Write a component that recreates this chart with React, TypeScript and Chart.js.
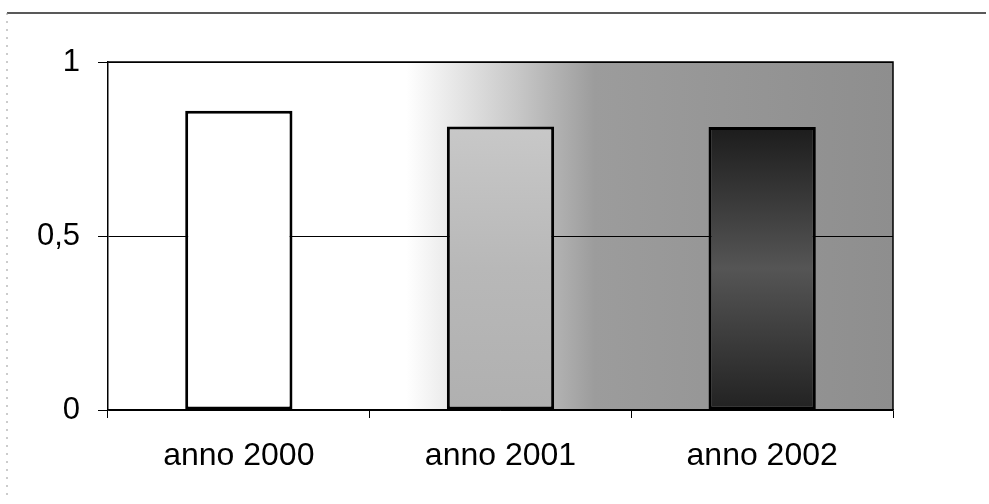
import React, { useEffect, useRef } from "react";
import { Chart, registerables } from "chart.js";

Chart.register(...registerables);

const categories = ["anno 2000", "anno 2001", "anno 2002"];
const values = [0.86, 0.815, 0.813];
const yTicks = [0, 0.5, 1];

const frame = {
  id: "frame",
  beforeDraw(chart: any) {
    const { ctx, chartArea: a } = chart;
    ctx.save();
    ctx.fillStyle = "#ffffff";
    ctx.fillRect(0, 0, chart.width, chart.height);
    const g = ctx.createLinearGradient(a.left, 0, a.right, 0);
    g.addColorStop(0, "#ffffff");
    g.addColorStop(0.38, "#ffffff");
    g.addColorStop(0.52, "#c8c8c8");
    g.addColorStop(0.62, "#9c9c9c");
    g.addColorStop(1, "#8e8e8e");
    ctx.fillStyle = g;
    ctx.fillRect(a.left, a.top, a.right - a.left, a.bottom - a.top);
    // outer frame
    ctx.strokeStyle = "#222";
    ctx.lineWidth = 1.5;
    ctx.beginPath();
    ctx.moveTo(7, 13);
    ctx.lineTo(986, 13);
    ctx.stroke();
    ctx.setLineDash([2, 6]);
    ctx.strokeStyle = "#999";
    ctx.lineWidth = 1;
    ctx.beginPath();
    ctx.moveTo(7, 13);
    ctx.lineTo(7, 500);
    ctx.stroke();
    ctx.restore();
  },
  afterDatasetsDraw(chart: any) {
    const { ctx, chartArea: a } = chart;
    ctx.save();
    ctx.strokeStyle = "#000";
    ctx.lineWidth = 1.5;
    ctx.beginPath();
    ctx.moveTo(a.left, a.top);
    ctx.lineTo(a.right, a.top);
    ctx.lineTo(a.right, a.bottom);
    ctx.stroke();
    ctx.restore();
  },
};

export default function App() {
  const ref = useRef<HTMLCanvasElement>(null);
  useEffect(() => {
    const canvas = ref.current!;
    const ctx = canvas.getContext("2d")!;
    const g2 = ctx.createLinearGradient(0, 127, 0, 410);
    g2.addColorStop(0, "#1c1c1c");
    g2.addColorStop(0.5, "#555555");
    g2.addColorStop(1, "#222222");
    const g1 = ctx.createLinearGradient(0, 126, 0, 410);
    g1.addColorStop(0, "#c8c8c8");
    g1.addColorStop(0.5, "#b8b8b8");
    g1.addColorStop(1, "#b0b0b0");
    const chart = new Chart(canvas, {
      type: "bar",
      data: {
        labels: categories,
        datasets: [
          {
            data: values,
            backgroundColor: ["#ffffff", g1, g2],
            borderColor: "#000",
            borderWidth: 3,
            borderSkipped: false,
            categoryPercentage: 1,
            barPercentage: 0.41,
          },
        ],
      },
      options: {
        animation: false,
        responsive: true,
        maintainAspectRatio: false,
        layout: { padding: { left: 0, right: 96, top: 62, bottom: 0 } },
        plugins: { legend: { display: false }, tooltip: { enabled: false } },
        scales: {
          x: {
            afterFit: (s: any) => {
              s.height = 94;
            },
            grid: {
              offset: true,
              drawOnChartArea: false,
              drawTicks: true,
              tickLength: 8,
              color: "#000",
            },
            border: { display: true, color: "#000", width: 1.5 },
            ticks: {
              color: "#000",
              padding: 19,
              font: { family: "Liberation Sans, Arial", size: 32 },
            },
          },
          y: {
            min: 0,
            max: 1,
            afterFit: (s: any) => {
              s.width = 108;
            },
            afterBuildTicks: (s: any) => {
              s.ticks = yTicks.map((v) => ({ value: v }));
            },
            grid: {
              color: "#000",
              lineWidth: 1,
              drawTicks: true,
              tickLength: 10,
            },
            border: { display: true, color: "#000", width: 1.5 },
            ticks: {
              color: "#000",
              padding: 18,
              font: { family: "Liberation Sans, Arial", size: 31 },
              callback: (v: any) => String(v).replace(".", ","),
            },
          },
        },
      },
      plugins: [frame],
    });
    return () => chart.destroy();
  }, []);
  return (
    <div style={{ position: "absolute", left: 0, top: 0, width: 989, height: 504 }}>
      <canvas ref={ref} />
    </div>
  );
}
